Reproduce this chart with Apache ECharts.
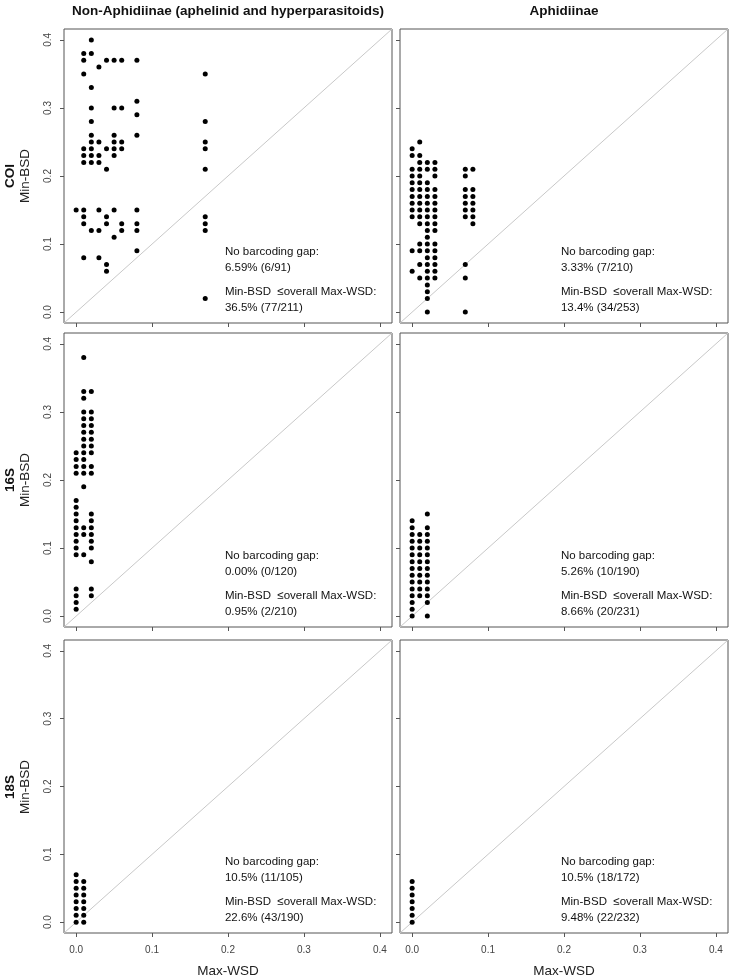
<!DOCTYPE html>
<html>
<head>
<meta charset="utf-8">
<script src="https://cdn.jsdelivr.net/npm/echarts@6/dist/echarts.min.js"></script>
<style>html,body{margin:0;background:#fff}#container{width:731px;height:979px}</style>
</head>
<body>
<div id="container"></div>
<script type="text/javascript">
// each panel: Max-WSD columns, and the Min-BSD values found in each column
var coiNonAphX = [0.00, 0.01, 0.02, 0.03, 0.04, 0.05, 0.06, 0.08, 0.17];
var coiNonAphY = [
    [0.15],
    [0.38, 0.37, 0.35, 0.24, 0.23, 0.22, 0.15, 0.14, 0.13, 0.08],
    [0.40, 0.38, 0.33, 0.30, 0.28, 0.26, 0.25, 0.24, 0.23, 0.22, 0.12],
    [0.36, 0.25, 0.23, 0.22, 0.15, 0.12, 0.08],
    [0.37, 0.24, 0.21, 0.14, 0.13, 0.07, 0.06],
    [0.37, 0.30, 0.26, 0.25, 0.24, 0.23, 0.15, 0.11],
    [0.37, 0.30, 0.25, 0.24, 0.13, 0.12],
    [0.37, 0.31, 0.29, 0.26, 0.15, 0.13, 0.12, 0.09],
    [0.35, 0.28, 0.25, 0.24, 0.21, 0.14, 0.13, 0.12, 0.02]
];
var coiAphX = [0.00, 0.01, 0.02, 0.03, 0.07, 0.08];
var coiAphY = [
    [0.24, 0.23, 0.21, 0.20, 0.19, 0.18, 0.17, 0.16, 0.15, 0.14, 0.09, 0.06],
    [0.25, 0.23, 0.22, 0.21, 0.20, 0.19, 0.18, 0.17, 0.16, 0.15, 0.14, 0.13, 0.10, 0.09, 0.07, 0.05],
    [0.22, 0.21, 0.19, 0.18, 0.17, 0.16, 0.15, 0.14, 0.13, 0.12, 0.11, 0.10, 0.09, 0.08, 0.07, 0.06, 0.05, 0.04, 0.03, 0.02, 0.00],
    [0.22, 0.21, 0.20, 0.18, 0.17, 0.16, 0.15, 0.14, 0.13, 0.12, 0.10, 0.09, 0.08, 0.07, 0.06, 0.05],
    [0.21, 0.20, 0.18, 0.17, 0.16, 0.15, 0.14, 0.07, 0.05, 0.00],
    [0.21, 0.18, 0.17, 0.16, 0.15, 0.14, 0.13]
];
var s16NonAphX = [0.00, 0.01, 0.02];
var s16NonAphY = [
    [0.24, 0.23, 0.22, 0.21, 0.17, 0.16, 0.15, 0.14, 0.13, 0.12, 0.11, 0.10, 0.09, 0.04, 0.03, 0.02, 0.01],
    [0.38, 0.33, 0.32, 0.30, 0.29, 0.28, 0.27, 0.26, 0.25, 0.24, 0.23, 0.22, 0.21, 0.19, 0.13, 0.12, 0.09],
    [0.33, 0.30, 0.29, 0.28, 0.27, 0.26, 0.25, 0.24, 0.22, 0.21, 0.15, 0.14, 0.13, 0.12, 0.11, 0.10, 0.08, 0.04, 0.03]
];
var s16AphX = [0.00, 0.01, 0.02];
var s16AphY = [
    [0.14, 0.13, 0.12, 0.11, 0.10, 0.09, 0.08, 0.07, 0.06, 0.05, 0.04, 0.03, 0.02, 0.01, 0.00],
    [0.12, 0.11, 0.10, 0.09, 0.08, 0.07, 0.06, 0.05, 0.04, 0.03],
    [0.15, 0.13, 0.12, 0.11, 0.10, 0.09, 0.08, 0.07, 0.06, 0.05, 0.04, 0.03, 0.02, 0.00]
];
var s18NonAphX = [0.00, 0.01];
var s18NonAphY = [
    [0.07, 0.06, 0.05, 0.04, 0.03, 0.02, 0.01, 0.00],
    [0.06, 0.05, 0.04, 0.03, 0.02, 0.01, 0.00]
];
var s18AphX = [0.00];
var s18AphY = [
    [0.06, 0.05, 0.04, 0.03, 0.02, 0.01, 0.00]
];

var colTitles = ['Non-Aphidiinae (aphelinid and hyperparasitoids)', 'Aphidiinae'];
var rowTitles = ['COI', '16S', '18S'];
var tickValues = [0, 0.1, 0.2, 0.3, 0.4];
var gapText = ['6.59% (6/91)', '3.33% (7/210)', '0.00% (0/120)', '5.26% (10/190)', '10.5% (11/105)', '10.5% (18/172)'];
var overlapText = ['36.5% (77/211)', '13.4% (34/253)', '0.95% (2/210)', '8.66% (20/231)', '22.6% (43/190)', '9.48% (22/232)'];

var panelX = [coiNonAphX, coiAphX, s16NonAphX, s16AphX, s18NonAphX, s18AphX];
var panelY = [coiNonAphY, coiAphY, s16NonAphY, s16AphY, s18NonAphY, s18AphY];

var dom = document.getElementById('container');
var myChart = echarts.init(dom);
var font = 'Liberation Sans, Arial, sans-serif';
var lo = -0.016, hi = 0.416;
var gridLeft = [64, 400];
var gridTop = [29, 333, 640];

var grids = [], xAxes = [], yAxes = [], series = [], graphics = [];

for (var p = 0; p < 6; p++) {
    var row = Math.floor(p / 2), col = p % 2;
    grids.push({
        left: gridLeft[col], top: gridTop[row], width: 328, height: 294,
        show: true, borderColor: '#555', borderWidth: 1, backgroundColor: 'transparent'
    });
    xAxes.push({
        gridIndex: p, type: 'value', min: lo, max: hi, position: 'bottom',
        name: row == 2 ? 'Max-WSD' : '', nameLocation: 'middle', nameGap: 31,
        nameTextStyle: { fontFamily: font, fontSize: 13.5, color: '#222' },
        axisLine: { show: false, onZero: false }, splitLine: { show: false },
        axisTick: { show: true, length: 4, customValues: tickValues, lineStyle: { color: '#555' } },
        axisLabel: { show: row == 2, customValues: tickValues, margin: 12, fontFamily: font, fontSize: 10, color: '#444',
            formatter: function (v) { return v.toFixed(1); } }
    });
    yAxes.push({
        gridIndex: p, type: 'value', min: lo, max: hi, position: 'left',
        axisLine: { show: false, onZero: false }, splitLine: { show: false },
        axisTick: { show: true, length: 4, customValues: tickValues, lineStyle: { color: '#555' } },
        axisLabel: { show: col == 0, customValues: tickValues, rotate: 90, margin: 11, fontFamily: font, fontSize: 10, color: '#444',
            formatter: function (v) { return v.toFixed(1); } }
    });

    var pts = [];
    for (var c = 0; c < panelX[p].length; c++) {
        for (var k = 0; k < panelY[p][c].length; k++) {
            pts.push([panelX[p][c], panelY[p][c][k]]);
        }
    }

    // 1:1 line
    series.push({
        type: 'line', xAxisIndex: p, yAxisIndex: p, data: [[lo, lo], [hi, hi]],
        symbol: 'none', silent: true, z: 1,
        lineStyle: { color: '#c8c8c8', width: 1 }
    });
    series.push({
        type: 'scatter', xAxisIndex: p, yAxisIndex: p, data: pts,
        symbol: 'circle', symbolSize: 5, silent: true, z: 2,
        itemStyle: { color: '#000', opacity: 1 }
    });
    // stats text
    series.push({
        type: 'scatter', xAxisIndex: p, yAxisIndex: p, symbolSize: 0, silent: true, z: 3,
        itemStyle: { opacity: 1 },
        data: [
            { name: 'No barcoding gap:', value: [0.196, 0.089] },
            { name: gapText[p], value: [0.196, 0.065] },
            { name: 'Min-BSD  \u2264overall Max-WSD:', value: [0.196, 0.030] },
            { name: overlapText[p], value: [0.196, 0.006] }
        ],
        label: { show: true, position: 'right', distance: 0, formatter: '{b}',
            fontFamily: font, fontSize: 11.5, color: '#111', opacity: 1 }
    });
}

for (var r = 0; r < 3; r++) {
    var cy = gridTop[r] + 147;
    graphics.push({
        type: 'text', x: 10, y: cy, rotation: Math.PI / 2,
        style: { text: rowTitles[r], font: 'bold 13.5px ' + font, fill: '#111', textAlign: 'center', textVerticalAlign: 'middle' }
    });
    graphics.push({
        type: 'text', x: 25, y: cy, rotation: Math.PI / 2,
        style: { text: 'Min-BSD', font: '13.5px ' + font, fill: '#222', textAlign: 'center', textVerticalAlign: 'middle' }
    });
}
for (var t = 0; t < 2; t++) {
    graphics.push({
        type: 'text', x: gridLeft[t] + 164, y: 11,
        style: { text: colTitles[t], font: 'bold 13.5px ' + font, fill: '#111', textAlign: 'center', textVerticalAlign: 'middle' }
    });
}

var option = {
    backgroundColor: '#fff',
    animation: false,
    grid: grids,
    xAxis: xAxes,
    yAxis: yAxes,
    series: series,
    graphic: graphics
};

if (option && typeof option === 'object') {
    myChart.setOption(option);
}
</script>
</body>
</html>
